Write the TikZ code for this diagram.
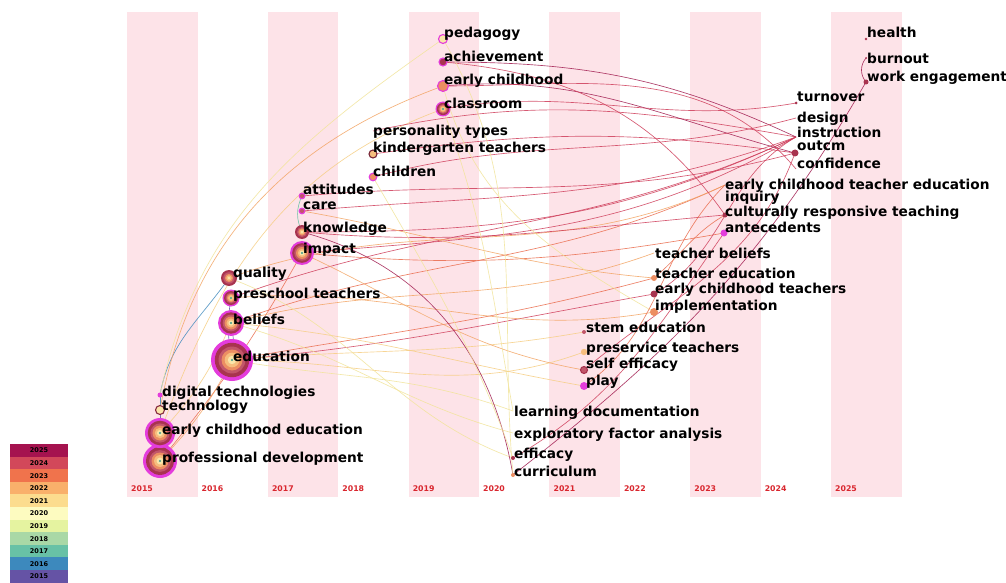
\documentclass[tikz,border=0pt]{standalone}
\usepackage{fontspec}
\setmainfont{DejaVu Sans}
\definecolor{stripe}{HTML}{FDE3E8}
\definecolor{yearred}{HTML}{D9262E}
\definecolor{l25}{HTML}{A5134F}
\definecolor{l24}{HTML}{D2485A}
\definecolor{l23}{HTML}{F0734C}
\definecolor{l22}{HTML}{F9B06B}
\definecolor{l21}{HTML}{FCDC8E}
\definecolor{l20}{HTML}{FDFBC0}
\definecolor{l19}{HTML}{E5F3A0}
\definecolor{l18}{HTML}{A9D8A6}
\definecolor{l17}{HTML}{68C1A6}
\definecolor{l16}{HTML}{3D89BD}
\definecolor{l15}{HTML}{6553A5}
\definecolor{e15}{HTML}{6553A5}
\definecolor{e16}{HTML}{3D89BD}
\definecolor{e17}{HTML}{68C1A6}
\definecolor{e20}{HTML}{F2E49A}
\definecolor{e21}{HTML}{F6CE82}
\definecolor{e22}{HTML}{F3A463}
\definecolor{e23}{HTML}{EA6B4C}
\definecolor{e24}{HTML}{CF3D5A}
\definecolor{e25}{HTML}{A01A4E}
\definecolor{mag}{HTML}{E43CDC}
\definecolor{m1}{HTML}{A8344F}
\definecolor{m2}{HTML}{C2566A}
\definecolor{m3}{HTML}{EC8E62}
\definecolor{m4}{HTML}{F6BE7E}
\definecolor{m5}{HTML}{FAE6AA}
\definecolor{tealc}{HTML}{3A9A8A}
\newcommand\bigring[2]{%
  \fill[mag] (#1.center) circle[radius=#2];
  \fill[m1] (#1.center) circle[radius={0.82*#2}];
  \fill[m2] (#1.center) circle[radius={0.64*#2}];
  \fill[m3] (#1.center) circle[radius={0.5*#2}];
  \fill[m4] (#1.center) circle[radius={0.35*#2}];
  \fill[m5] (#1.center) circle[radius={0.2*#2}];
  \fill[tealc] (#1.center) circle[radius=1.2];}
\newcommand\plainring[2]{%
  \fill[m1] (#1.center) circle[radius=#2];
  \fill[m2] (#1.center) circle[radius={0.72*#2}];
  \fill[m3] (#1.center) circle[radius={0.52*#2}];
  \fill[m4] (#1.center) circle[radius={0.34*#2}];
  \fill[m5] (#1.center) circle[radius={0.18*#2}];}
\newcommand\dotring[4]{%
  \fill[#3] (#1.center) circle[radius=#2];
  \draw[#4, line width=1.1pt] (#1.center) circle[radius=#2];}
\newcommand\kwdot[3]{%
  \fill[#3] (#1.center) circle[radius=#2];}
\begin{document}
\begin{tikzpicture}[x=1pt,y=1pt,
  lbl/.style={font=\fontsize{13.7}{14}\selectfont\bfseries, text=black, inner sep=0pt, anchor=base west},
  yr/.style={font=\fontsize{7.8}{8}\selectfont\bfseries, text=yearred, inner sep=0pt, anchor=base west},
  lg/.style={font=\fontsize{6.5}{7}\selectfont\bfseries, text=black, inner sep=0pt},
  kw/.style={circle, inner sep=0pt, minimum size=1pt},
  lk/.style={line width=0.65pt, opacity=0.85},
]
\useasboundingbox (0,0) rectangle (1006,582);
\fill[white] (0,0) rectangle (1006,582);
% stripes
\foreach \k in {0,...,5} \fill[stripe] ({127+140.8*\k},85) rectangle ({197.5+140.8*\k},570);
% year labels
\foreach \y [count=\i from 0] in {2015,...,2025} \node[yr] (yr\i) at ({131+70.4*\i},91) {\y};
% legend
\foreach \y/\c [count=\i from 0] in {2025/l25,2024/l24,2023/l23,2022/l22,2021/l21,2020/l20,2019/l19,2018/l18,2017/l17,2016/l16,2015/l15} {
  \fill[\c] (10,{138-12.6*\i}) rectangle (68,{125.4-12.6*\i});
  \node[lg] (lg\i) at (39,{131.5-12.6*\i}) {\y};
}
% keyword nodes (positions)
\node[kw] (pd) at (160,121) {};
\node[kw] (ece) at (160,149) {};
\node[kw] (tech) at (160,172) {};
\node[kw] (dig) at (160,187) {};
\node[kw] (edu) at (232,222) {};
\node[kw] (bel) at (231,259) {};
\node[kw] (pre) at (231,284) {};
\node[kw] (qua) at (229,304) {};
\node[kw] (imp) at (302,329) {};
\node[kw] (kno) at (302,350) {};
\node[kw] (care) at (302,371) {};
\node[kw] (att) at (302,386) {};
\node[kw] (per) at (373,451) {};
\node[kw] (kin) at (373,428) {};
\node[kw] (chi) at (373,405) {};
\node[kw] (ped) at (443,543) {};
\node[kw] (ach) at (443,520) {};
\node[kw] (ech) at (443,496) {};
\node[kw] (cla) at (443,473) {};
\node[kw] (lea) at (513,171) {};
\node[kw] (exp) at (513,149) {};
\node[kw] (eff) at (513,124) {};
\node[kw] (cur) at (513,107) {};
\node[kw] (ste) at (584,250) {};
\node[kw] (prs) at (584,230) {};
\node[kw] (sef) at (584,212) {};
\node[kw] (pla) at (584,196) {};
\node[kw] (tbe) at (654,329) {};
\node[kw] (ted) at (654,304) {};
\node[kw] (ect) at (654,288) {};
\node[kw] (imt) at (654,270) {};
\node[kw] (ecte) at (725,397) {};
\node[kw] (inq) at (725,385) {};
\node[kw] (crt) at (725,367) {};
\node[kw] (ant) at (724,349) {};
\node[kw] (tur) at (796,479) {};
\node[kw] (des) at (796,464) {};
\node[kw] (ins) at (796,445) {};
\node[kw] (out) at (795,429) {};
\node[kw] (con) at (796,413) {};
\node[kw] (hea) at (866,543) {};
\node[kw] (bur) at (866,524) {};
\node[kw] (wen) at (866,500) {};
% links
\draw[lk,e16] (dig.center) -- (tech.center);
\draw[lk,e15] (tech.center) -- (ece.center);
\draw[lk,e16] (ece.center) -- (pd.center);
\draw[lk,e16] (dig.center) to[out=80,in=235] (qua.center);
\draw[lk,e15] (pre.center) to[bend right=10] (edu.center);
\draw[lk,e15] (bel.center) to[bend left=10] (edu.center);
\draw[lk,e17] (att.center) to[bend right=25] (kno.center);
\draw[lk,e22] (tech.center) to[out=80,in=200] (ech.center);
\draw[lk,e20] (dig.center) to[out=78,in=215] (ped.center);
\draw[lk,e21] (ece.center) to[out=70,in=200] (cla.center);
\draw[lk,e23] (pd.center) to[bend right=5] (imp.center);
\draw[lk,e22] (pd.center) to[bend right=8] (edu.center);
\draw[lk,e21] (ece.center) to[bend right=10] (bel.center);
\draw[lk,e24] (edu.center) to[out=5,in=190] (ect.center);
\draw[lk,e23] (edu.center) to[out=10,in=195] (ted.center);
\draw[lk,e21] (edu.center) to[out=0,in=200] (prs.center);
\draw[lk,e20] (edu.center) to[out=-10,in=160] (lea.center);
\draw[lk,e21] (edu.center) to[out=5,in=190] (ste.center);
\draw[lk,e22] (bel.center) to[out=15,in=200] (tbe.center);
\draw[lk,e23] (bel.center) to[out=20,in=205] (ecte.center);
\draw[lk,e21] (bel.center) to[out=-5,in=170] (pla.center);
\draw[lk,e20] (bel.center) to[out=-15,in=165] (exp.center);
\draw[lk,e22] (pre.center) to[out=5,in=190] (imt.center);
\draw[lk,e24] (pre.center) to[out=20,in=205] (ins.center);
\draw[lk,e22] (qua.center) to[out=20,in=205] (ecte.center);
\draw[lk,e20] (qua.center) to[out=-20,in=160] (eff.center);
\draw[lk,e23] (imp.center) to[out=-5,in=190] (ant.center);
\draw[lk,e24] (imp.center) to[out=5,in=210] (ins.center);
\draw[lk,e22] (imp.center) to[out=-25,in=170] (sef.center);
\draw[lk,e25] (kno.center) to[out=-15,in=100] (cur.center);
\draw[lk,e24] (kno.center) to[out=-5,in=185] (crt.center);
\draw[lk,e24] (kno.center) to[out=0,in=205] (ins.center);
\draw[lk,e24] (care.center) to[out=5,in=200] (ins.center);
\draw[lk,e24] (att.center) to[out=5,in=195] (out.center);
\draw[lk,e22] (care.center) to[out=-10,in=175] (ted.center);
\draw[lk,e24] (kin.center) to[out=8,in=172] (out.center);
\draw[lk,e24] (per.center) to[out=12,in=170] (ins.center);
\draw[lk,e25] (ach.center) to[out=0,in=155] (ins.center);
\draw[lk,e25] (ech.center) to[out=5,in=165] (out.center);
\draw[lk,e24] (ach.center) to[out=-5,in=125] (crt.center);
\draw[lk,e24] (ech.center) to[out=0,in=130] (con.center);
\draw[lk,e24] (chi.center) to[out=15,in=195] (des.center);
\draw[lk,e24] (cla.center) to[out=10,in=190] (tur.center);
\draw[lk,e20] (ped.center) to[out=-60,in=95] (cur.center);
\draw[lk,e20] (cla.center) to[out=-70,in=100] (lea.center);
\draw[lk,e20] (chi.center) to[out=-60,in=110] (eff.center);
\draw[lk,e20] (ech.center) to[out=-75,in=150] (imt.center);
\draw[lk,e25] (cur.center) to[out=38,in=240] (wen.center);
\draw[lk,e24] (sef.center) to[out=40,in=250] (out.center);
\draw[lk,e25] (bur.center) to[bend right=40] (wen.center);
\draw[lk,e23] (pla.center) to[out=35,in=225] (ecte.center);
\draw[lk,e24] (ect.center) to[out=30,in=210] (ins.center);
\draw[lk,e23] (ted.center) to[out=40,in=210] (crt.center);
\draw[lk,e24] (eff.center) to[out=30,in=235] (ant.center);
% node glyphs
\bigring{pd}{17}
\bigring{ece}{15}
\bigring{edu}{21}
\bigring{bel}{13}
\bigring{pre}{8.5}
\plainring{qua}{8}
\bigring{imp}{12}
\plainring{kno}{7}
\dotring{tech}{4.5}{m5}{m1!80!black}
\kwdot{dig}{2.5}{mag}
\dotring{care}{2.8}{m2}{mag}
\dotring{att}{2.8}{m2}{mag}
\dotring{kin}{4}{m4}{m1!70!black}
\dotring{chi}{3.8}{m3}{mag}
\dotring{ped}{4.5}{m5}{mag}
\dotring{ach}{4}{m1}{mag}
\dotring{ech}{5.5}{m3}{mag}
\bigring{cla}{7.5}
\kwdot{eff}{2}{m1}
\kwdot{cur}{2}{m3}
\kwdot{ste}{2}{m2}
\kwdot{prs}{3.2}{m4}
\dotring{sef}{3.5}{m2}{m1}
\kwdot{pla}{4}{mag}
\kwdot{ted}{3}{m3}
\kwdot{ect}{3.5}{m1}
\kwdot{imt}{4}{m3}
\kwdot{crt}{2.5}{m1}
\kwdot{ant}{3.5}{mag}
\kwdot{tur}{1.5}{m1}
\kwdot{out}{3.5}{m1}
\kwdot{hea}{1.3}{m1}
\kwdot{bur}{1}{m1}
\kwdot{wen}{2.5}{m1}
% labels
\node[lbl] (t-pd) at (162,120) {professional development};
\node[lbl] (t-ece) at (162,148) {early childhood education};
\node[lbl] (t-tech) at (162,172) {technology};
\node[lbl] (t-dig) at (162,186) {digital technologies};
\node[lbl] (t-edu) at (233,221) {education};
\node[lbl] (t-bel) at (233,258) {beliefs};
\node[lbl] (t-pre) at (233,284) {preschool teachers};
\node[lbl] (t-qua) at (233,305) {quality};
\node[lbl] (t-imp) at (303,329) {impact};
\node[lbl] (t-kno) at (303,350) {knowledge};
\node[lbl] (t-care) at (303,372) {care};
\node[lbl] (t-att) at (303,387) {attitudes};
\node[lbl] (t-per) at (373,446) {personality types};
\node[lbl] (t-kin) at (373,429) {kindergarten teachers};
\node[lbl] (t-chi) at (373,405) {children};
\node[lbl] (t-ped) at (444,544) {pedagogy};
\node[lbl] (t-ach) at (444,520) {achievement};
\node[lbl] (t-ech) at (444,497) {early childhood};
\node[lbl] (t-cla) at (444,473) {classroom};
\node[lbl] (t-lea) at (514,166) {learning documentation};
\node[lbl] (t-exp) at (514,144) {exploratory factor analysis};
\node[lbl] (t-eff) at (514,124) {efficacy};
\node[lbl] (t-cur) at (514,106) {curriculum};
\node[lbl] (t-ste) at (586,250) {stem education};
\node[lbl] (t-prs) at (586,230) {preservice teachers};
\node[lbl] (t-sef) at (586,214) {self efficacy};
\node[lbl] (t-pla) at (586,197) {play};
\node[lbl] (t-tbe) at (655,324) {teacher beliefs};
\node[lbl] (t-ted) at (655,304) {teacher education};
\node[lbl] (t-ect) at (655,289) {early childhood teachers};
\node[lbl] (t-imt) at (655,272) {implementation};
\node[lbl] (t-ecte) at (725,392) {early childhood teacher education};
\node[lbl] (t-inq) at (725,381) {inquiry};
\node[lbl] (t-crt) at (725,366) {culturally responsive teaching};
\node[lbl] (t-ant) at (725,349) {antecedents};
\node[lbl] (t-tur) at (797,480) {turnover};
\node[lbl] (t-des) at (797,459) {design};
\node[lbl] (t-ins) at (797,444) {instruction};
\node[lbl] (t-out) at (797,431) {outcm};
\node[lbl] (t-con) at (797,413) {confidence};
\node[lbl] (t-hea) at (867,544) {health};
\node[lbl] (t-bur) at (867,518) {burnout};
\node[lbl] (t-wen) at (867,500) {work engagement};
\end{tikzpicture}
\end{document}
